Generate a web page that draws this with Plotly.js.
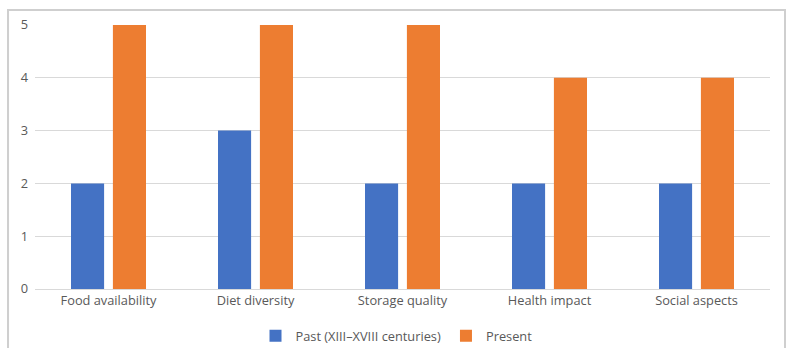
<!DOCTYPE html>
<html><head><meta charset="utf-8">
<script src="https://cdn.plot.ly/plotly-3.0.1.min.js"></script>
<style>html,body{margin:0;padding:0;background:#fff}#chart{width:793px;height:348px}</style>
</head><body><div id="chart"></div>
<script>
const categories = ["Food availability", "Diet diversity", "Storage quality", "Health impact", "Social aspects"];
const pastValues = [2, 3, 2, 2, 2];
const presentValues = [5, 5, 5, 4, 4];
const seriesNames = ["Past (XIII\u2013XVIII centuries)", "Present"];
const yTicks = [0, 1, 2, 3, 4, 5];

const font = {family: "Open Sans, Noto Sans, sans-serif", size: 12.8, color: "#595959"};
const data = [
  {type: "bar", x: categories, y: pastValues, name: seriesNames[0], marker: {color: "#4472C4"}, hoverinfo: "y"},
  {type: "bar", x: categories, y: presentValues, name: seriesNames[1], marker: {color: "#ED7D31"}, hoverinfo: "y"}
];
const layout = {
  width: 793, height: 348,
  margin: {l: 35, r: 23, t: 25, b: 59, autoexpand: false},
  paper_bgcolor: "#fff", plot_bgcolor: "#fff",
  font: font,
  barmode: "group", bargap: 0.43, bargroupgap: 0.21,
  showlegend: true,
  legend: {orientation: "h", x: 0.5, xref: "container", xanchor: "center", y: 0.035, yref: "container", yanchor: "middle", font: font, traceorder: "normal"},
  xaxis: {showgrid: false, showline: true, linecolor: "#d9d9d9", linewidth: 1, ticks: "", tickfont: font, fixedrange: true, automargin: false},
  yaxis: {range: [0, 5], tickvals: yTicks, showgrid: true, gridcolor: "#d9d9d9", gridwidth: 1, zeroline: false, showline: false, ticks: "", ticklabelstandoff: 6, tickfont: font, fixedrange: true, automargin: false},
  shapes: [{type: "rect", xref: "paper", yref: "paper", x0: -0.0367, x1: 1.0204, y0: -0.4, y1: 1.0568, line: {color: "#cfcfcf", width: 2}, fillcolor: "rgba(0,0,0,0)", layer: "below"}]
};
Plotly.newPlot("chart", data, layout, {displayModeBar: false, staticPlot: true});
</script></body></html>
